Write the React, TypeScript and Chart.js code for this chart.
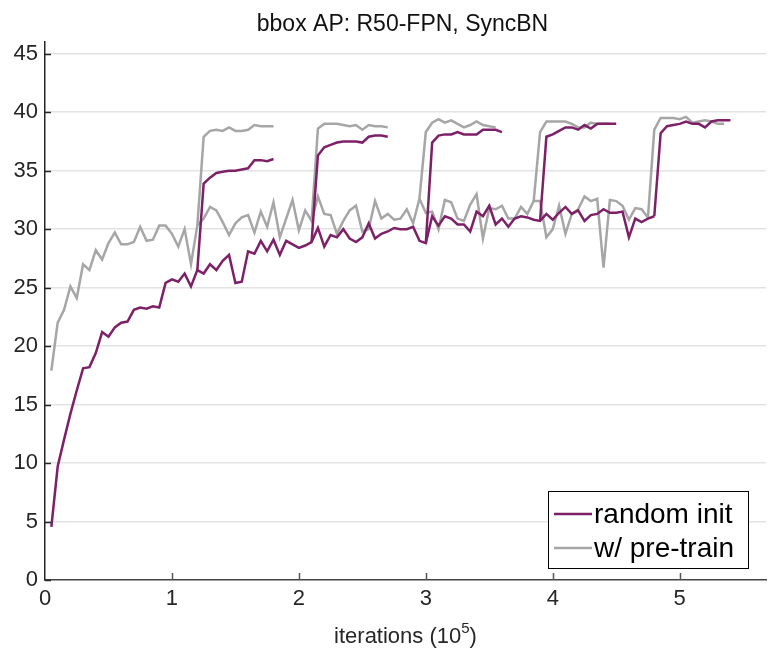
import React, { useEffect, useRef } from 'react';
import { Chart, registerables } from 'chart.js';

Chart.register(...registerables);

// evaluation interval, in units of 10^5 iterations
const evalStep = 0.05;

const chartTitle = 'bbox AP: R50-FPN, SyncBN';
const seriesNames = ['random init', 'w/ pre-train'];
const xTickValues = [0, 1, 2, 3, 4, 5];
const yTickValues = [0, 5, 10, 15, 20, 25, 30, 35, 40, 45];

// random init: main schedule, starting at 0.05
const randomMainStart = 0.05;
const randomMain = [
  4.55, 9.7, 12.0, 14.2, 16.2, 18.1, 18.2, 19.4, 21.2, 20.8,
  21.6, 22.0, 22.1, 23.1, 23.3, 23.2, 23.4, 23.3, 25.4, 25.7,
  25.5, 26.2, 25.1, 26.5, 26.2, 27.0, 26.5, 27.3, 27.8, 25.4,
  25.5, 28.1, 27.9, 29.0, 28.1, 29.1, 27.8, 29.0, 28.7, 28.4,
  28.6, 28.9, 30.1, 28.5, 29.5, 29.3, 30.0, 29.2, 28.9, 29.3,
  30.5, 29.2, 29.6, 29.8, 30.1, 30.0, 30.0, 30.2, 29.0, 28.8,
  31.1, 30.3, 31.1, 30.9, 30.4, 30.4, 29.8, 31.5, 31.1, 32.0,
  30.4, 30.9, 30.2, 30.9, 31.1, 31.0, 30.8, 30.7, 31.3, 30.8,
  31.4, 31.9, 31.3, 31.6, 30.7, 31.2, 31.3, 31.7, 31.4, 31.4,
  31.5, 29.3, 30.9, 30.6, 30.9, 31.1,
];
// random init: learning-rate-drop branches
const randomBranchStarts = [1.2, 2.1, 3.0, 3.9, 4.8];
const randomBranch1 = [26.5, 33.9, 34.4, 34.8, 34.9, 35.0, 35.0, 35.1, 35.2, 35.9, 35.9, 35.8, 36.0];
const randomBranch2 = [28.9, 36.3, 37.0, 37.2, 37.4, 37.5, 37.5, 37.5, 37.4, 37.9, 38.0, 38.0, 37.9];
const randomBranch3 = [28.8, 37.4, 38.0, 38.1, 38.1, 38.3, 38.1, 38.1, 38.1, 38.5, 38.5, 38.5, 38.3];
const randomBranch4 = [30.7, 37.9, 38.1, 38.4, 38.7, 38.7, 38.5, 38.9, 38.6, 39.0, 39.0, 39.0, 39.0];
const randomBranch5 = [31.1, 38.2, 38.8, 38.9, 39.0, 39.2, 39.0, 39.0, 38.7, 39.2, 39.3, 39.3, 39.3];

// w/ pre-train: main schedule
const pretrainMainStart = 0.05;
const pretrainMain = [
  17.9, 22.0, 23.1, 25.1, 24.1, 27.0, 26.5, 28.2, 27.4, 28.8,
  29.7, 28.7, 28.7, 28.9, 30.2, 29.0, 29.1, 30.3, 30.3, 29.6,
  28.5, 30.0, 27.0, 30.3, 30.9, 31.9, 31.6, 30.6, 29.5, 30.5,
  31.0, 31.2, 29.7, 31.5, 30.2, 32.3, 29.3, 30.9, 32.5, 29.9,
  31.6, 30.7, 32.8, 31.3, 31.2, 29.6, 30.7, 31.6, 32.0, 29.8,
  30.0, 32.4, 30.9, 31.3, 30.8, 30.9, 31.7, 30.5, 32.6, 31.4,
  31.5, 30.0, 32.5, 32.3, 30.9, 30.7, 32.1, 33.0, 29.2, 31.8,
  31.7, 32.0, 30.9, 30.9, 31.9, 31.3, 32.4, 32.4, 29.3, 30.0,
  32.0, 29.6, 31.3, 31.7, 32.8, 32.4, 32.6, 26.7, 32.5, 32.4,
  32.0, 30.8, 31.8, 31.7, 31.0,
];
const pretrainBranchStarts = [1.2, 2.1, 2.95, 3.85, 4.75];
const pretrainBranch1 = [30.3, 37.9, 38.4, 38.5, 38.4, 38.7, 38.4, 38.4, 38.5, 38.9, 38.8, 38.8, 38.8];
const pretrainBranch2 = [30.7, 38.6, 39.0, 39.0, 39.0, 38.9, 38.8, 38.9, 38.5, 38.9, 38.8, 38.8, 38.7];
const pretrainBranch3 = [32.6, 38.3, 39.1, 39.4, 39.1, 39.3, 39.0, 38.7, 38.9, 39.2, 38.9, 38.8, 38.7];
const pretrainBranch4 = [32.4, 38.3, 39.2, 39.2, 39.2, 39.2, 39.0, 38.7, 38.7, 39.1, 39.0, 39.0, 39.0];
const pretrainBranch5 = [31.0, 38.5, 39.5, 39.5, 39.5, 39.4, 39.6, 39.1, 39.2, 39.3, 39.2, 39.0, 39.0];

const PURPLE = '#7e2068';
const GRAY = '#a6a6a6';
const FONT = "'Liberation Sans', Arial, Helvetica, sans-serif";
const TEXT = '#262626';

function toPoints(start: number, values: number[]) {
  return values.map((y, i) => ({ x: Math.round((start + i * evalStep) * 100) / 100, y }));
}

function lineDs(label: string, color: string, data: { x: number; y: number }[]) {
  return {
    label,
    data,
    borderColor: color,
    backgroundColor: color,
    borderWidth: 2.5,
    pointRadius: 0,
    pointHoverRadius: 0,
    tension: 0,
    fill: false,
  };
}

const decorPlugin = {
  id: 'decor',
  afterDraw(chart: any) {
    const { ctx, chartArea } = chart;
    const xs = chart.scales.x;
    const ys = chart.scales.y;
    ctx.save();
    // inward tick marks
    ctx.strokeStyle = TEXT;
    ctx.lineWidth = 1.5;
    ctx.beginPath();
    yTickValues.forEach((v) => {
      const py = Math.round(ys.getPixelForValue(v)) + 0.5;
      ctx.moveTo(chartArea.left, py);
      ctx.lineTo(chartArea.left + 6, py);
    });
    ctx.stroke();
    ctx.strokeStyle = '#555555';
    ctx.beginPath();
    xTickValues.forEach((v) => {
      if (v === 0) return;
      const px = Math.round(xs.getPixelForValue(v)) + 0.5;
      ctx.moveTo(px, chartArea.bottom);
      ctx.lineTo(px, chartArea.bottom - 7);
    });
    ctx.stroke();

    // title
    const cx = (chartArea.left + chartArea.right) / 2;
    ctx.fillStyle = '#111111';
    ctx.font = `23px ${FONT}`;
    ctx.textAlign = 'center';
    ctx.textBaseline = 'alphabetic';
    ctx.fillText(chartTitle, cx - 3, 31);

    // x-axis label with superscript
    const main = 'iterations (10';
    const sup = '5';
    const close = ')';
    ctx.font = `22px ${FONT}`;
    const w1 = ctx.measureText(main).width;
    const w3 = ctx.measureText(close).width;
    ctx.font = `15px ${FONT}`;
    const w2 = ctx.measureText(sup).width;
    const total = w1 + w2 + w3;
    const x0 = cx - total / 2;
    const base = 643;
    ctx.textAlign = 'left';
    ctx.fillStyle = TEXT;
    ctx.font = `22px ${FONT}`;
    ctx.fillText(main, x0, base);
    ctx.font = `15px ${FONT}`;
    ctx.fillText(sup, x0 + w1, base - 10);
    ctx.font = `22px ${FONT}`;
    ctx.fillText(close, x0 + w1 + w2, base);

    // legend box
    const bx = 548.5, by = 491.5, bw = 200, bh = 77;
    ctx.fillStyle = '#ffffff';
    ctx.fillRect(bx, by, bw, bh);
    ctx.strokeStyle = '#000000';
    ctx.lineWidth = 1;
    ctx.strokeRect(bx, by, bw, bh);
    const entries = [
      { label: seriesNames[0], color: chart.data.datasets[0].borderColor, y: 514 },
      { label: seriesNames[1], color: chart.data.datasets[6].borderColor, y: 548 },
    ];
    entries.forEach((e) => {
      ctx.strokeStyle = e.color;
      ctx.lineWidth = 2.5;
      ctx.beginPath();
      ctx.moveTo(554, e.y);
      ctx.lineTo(592, e.y);
      ctx.stroke();
      ctx.fillStyle = '#000000';
      ctx.font = `28px ${FONT}`;
      ctx.textAlign = 'left';
      ctx.textBaseline = 'middle';
      ctx.fillText(e.label, 594, e.y + 1);
    });
    ctx.restore();
  },
};

export default function App() {
  const canvasRef = useRef<HTMLCanvasElement | null>(null);

  useEffect(() => {
    const canvas = canvasRef.current;
    if (!canvas) return;
    const randomBranches = [randomBranch1, randomBranch2, randomBranch3, randomBranch4, randomBranch5];
    const pretrainBranches = [pretrainBranch1, pretrainBranch2, pretrainBranch3, pretrainBranch4, pretrainBranch5];
    const datasets: any[] = [];
    datasets.push(lineDs(seriesNames[0], PURPLE, toPoints(randomMainStart, randomMain)));
    randomBranches.forEach((b, i) =>
      datasets.push(lineDs(seriesNames[0], PURPLE, toPoints(randomBranchStarts[i], b)))
    );
    datasets.push(lineDs(seriesNames[1], GRAY, toPoints(pretrainMainStart, pretrainMain)));
    pretrainBranches.forEach((b, i) =>
      datasets.push(lineDs(seriesNames[1], GRAY, toPoints(pretrainBranchStarts[i], b)))
    );

    const chart = new Chart(canvas, {
      type: 'line',
      data: { datasets },
      options: {
        animation: false,
        responsive: false,
        maintainAspectRatio: false,
        events: [],
        layout: { padding: { top: 42, right: 14, left: 0, bottom: 0 } },
        plugins: {
          legend: { display: false },
          title: { display: false },
          tooltip: { enabled: false },
        },
        scales: {
          x: {
            type: 'linear',
            min: 0,
            max: 5.68,
            afterBuildTicks: (axis: any) => {
              axis.ticks = xTickValues.map((v) => ({ value: v }));
            },
            afterFit: (s: any) => {
              s.height = 86;
            },
            ticks: {
              color: TEXT,
              font: { family: FONT, size: 22 },
              padding: 6,
              maxRotation: 0,
              autoSkip: false,
            },
            grid: { display: false, drawTicks: false },
            border: { display: true, color: '#444444', width: 1.5 },
          },
          y: {
            type: 'linear',
            min: 0,
            max: 46,
            afterBuildTicks: (axis: any) => {
              axis.ticks = yTickValues.map((v) => ({ value: v }));
            },
            afterFit: (s: any) => {
              s.width = 45;
            },
            ticks: {
              color: TEXT,
              font: { family: FONT, size: 22 },
              padding: 7,
              autoSkip: false,
            },
            grid: {
              drawTicks: false,
              lineWidth: 1.5,
              color: (c: any) => (c.tick && c.tick.value === 0 ? 'rgba(0,0,0,0)' : '#e3e3e3'),
            },
            border: { display: true, color: TEXT, width: 1.5 },
          },
        },
      },
      plugins: [decorPlugin],
    });
    return () => chart.destroy();
  }, []);

  return (
    <div style={{ position: 'fixed', left: 0, top: 0, width: 780, height: 666, background: '#ffffff' }}>
      <canvas ref={canvasRef} width={780} height={666} style={{ display: 'block' }} />
    </div>
  );
}
